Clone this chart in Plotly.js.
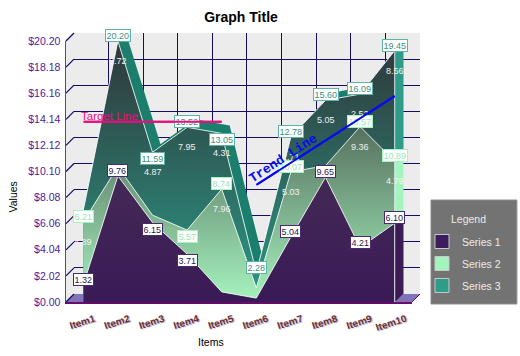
<!DOCTYPE html>
<html><head><meta charset="utf-8">
<script src="https://cdn.plot.ly/plotly-3.0.0.min.js"></script>
<style>html,body{margin:0;padding:0;background:#fff}#c{width:520px;height:356px}</style>
</head><body><div id="c"></div>
<script>
const categories=['Item1','Item2','Item3','Item4','Item5','Item6','Item7','Item8','Item9','Item10'];
const series1=[1.32,9.76,6.15,3.71,0.78,0.30,5.04,9.65,4.21,6.10];
const series2=[4.89,0.72,0.57,1.86,7.96,0.80,5.03,0.90,9.36,4.79];
const series3=[0.90,9.72,4.87,7.95,4.31,1.18,2.71,5.05,2.52,8.56];
const yTickVals=[0,2.02,4.04,6.06,8.08,10.10,12.12,14.14,16.16,18.18,20.20];
const yTickText=['$0.00','$2.02','$4.04','$6.06','$8.08','$10.10','$12.12','$14.14','$16.16','$18.18','$20.20'];
const targetValue=[13.95,13.95];
const targetItems=[0,4];
const trendValues=[9.06,15.94];
const trendItems=[5,9];

// which point labels are shown, and which sit under their point
const boxS1=[0,1,2,3,6,7,8,9], boxS2=[0,3,4,6,8,9], boxS3=[1,2,3,4,5,6,7,8,9];
const valS2=[0,4,6,8,9], valS3=[1,2,3,4,6,7,8,9];
const boxBelow={s1:[2,3],s2:[3],s3:[2,4]};

const idx=categories.map((_,i)=>i);
const r2=v=>Math.round(v*100)/100;
const cum2=series1.map((v,i)=>r2(v+series2[i]));
const cum3=cum2.map((v,i)=>r2(v+series3[i]));

const W=354.4,H=269,DEPTH=8,FW=346.4,FH=261;
const layout={width:520,height:356,margin:{l:65.6,r:100,t:33,b:54,pad:0,autoexpand:false},
  paper_bgcolor:'#fff',plot_bgcolor:'rgba(0,0,0,0)',
  font:{family:'Liberation Sans, Arial, sans-serif',size:10,color:'#000'},
  title:{text:'<b>Graph Title</b>',x:241/520,xanchor:'center',xref:'container',y:1-17/356,yanchor:'middle',font:{size:14,color:'#000'}},
  showlegend:true,
  legend:{x:(422-65.6)/W,xanchor:'left',y:(302-227)/H,yanchor:'top',bgcolor:'rgba(0,0,0,0)',borderwidth:0,
    font:{size:10.5,color:'#ececec'},entrywidth:70,entrywidthmode:'pixels',tracegroupgap:3,itemclick:false,itemdoubleclick:false},
  shapes:[],annotations:[]};

const ax=i=>i===1?'':String(i);
const traces=[];
const NAVY='#160c66';
for(let d=DEPTH;d>=0;d--){
  const n=DEPTH-d+1;
  const xa={domain:[d/W,(FW+d)/W],range:[-0.5,9.5],anchor:'y'+ax(n),showgrid:false,zeroline:false,showline:false,showticklabels:false,ticks:'',fixedrange:true};
  const ya={domain:[d/H,(FH+d)/H],range:[0,20.2],anchor:'x'+ax(n),showgrid:false,zeroline:false,showline:false,showticklabels:false,ticks:'',fixedrange:true};
  if(d===DEPTH){
    Object.assign(xa,{showgrid:true,gridcolor:NAVY,gridwidth:1,tickmode:'array',tickvals:[-0.5,0.5,1.5,2.5,3.5,4.5,5.5,6.5,7.5,8.5,9.5]});
    Object.assign(ya,{showgrid:true,gridcolor:NAVY,gridwidth:1,tickmode:'array',tickvals:yTickVals});
  }
  if(d===0){
    Object.assign(xa,{showline:true,linecolor:'#6a0a6a',linewidth:1.5,showticklabels:true,tickmode:'array',tickvals:idx,ticktext:categories,tickangle:-18,
      ticklabelshift:11,ticklabelstandoff:6,tickfont:{family:'Liberation Sans, Arial',size:10,weight:'bold',color:'#6b2f2f',shadow:'1px 1px 1px #aaaacc'}});
    Object.assign(ya,{showline:true,linecolor:'#8a2a9a',linewidth:1.5,showticklabels:true,tickmode:'array',tickvals:yTickVals,ticktext:yTickText,ticklabelstandoff:2,
      tickfont:{family:'Liberation Sans, Arial',size:10.5,color:'#4b1a9a'}});
  }
  layout['xaxis'+ax(n)]=xa; layout['yaxis'+ax(n)]=ya;
  const refs={xaxis:'x'+ax(n),yaxis:'y'+ax(n),showlegend:false,hoverinfo:'skip'};
  if(d>0){
    // top ribbon of the stack, then the right end faces of the three bands
    traces.push({type:'scatter',mode:'none',x:idx,y:cum3,fill:'tozeroy',fillcolor:'#1c7f6d',...refs});
    [[cum2[9],cum3[9],'#2f9c88'],[series1[9],cum2[9],'#a2f5bf'],[0,series1[9],'#3d1c56']].forEach(e=>
      traces.push({type:'scatter',mode:'lines',x:[9,9],y:[e[0],e[1]],line:{color:e[2],width:1.6},...refs}));
  }
  if(d===0){
    const edge={color:'rgba(255,255,255,0.85)',width:1};
    traces.push({type:'scatter',mode:'lines',x:idx,y:cum3,line:edge,fill:'tozeroy',
      fillgradient:{type:'vertical',colorscale:[[0,'#2a9a86'],[1,'#30363a']]},...refs});
    traces.push({type:'scatter',mode:'lines',x:idx,y:cum2,line:edge,fill:'tozeroy',
      fillgradient:{type:'vertical',colorscale:[[0,'#a6f4bf'],[1,'#56705e']]},...refs});
    traces.push({type:'scatter',mode:'lines',x:idx,y:series1,line:edge,fill:'tozeroy',
      fillgradient:{type:'vertical',colorscale:[[0,'#3a1a56'],[1,'#442a56']]},...refs});
    traces.push({type:'scatter',mode:'lines',x:[9,9],y:[0,cum3[9]],line:edge,...refs});
    traces.push({type:'scatter',mode:'lines',name:'Target Line',x:targetItems,y:targetValue,line:{color:'#e4107e',width:2},...refs});
    traces.push({type:'scatter',mode:'lines',name:'Trend Line',x:trendItems,y:trendValues,line:{color:'#0a0af0',width:2},...refs});
    [['Series 1','#3d1c5e'],['Series 2','#a2f5bf'],['Series 3','#2f9c88']].forEach(s=>traces.push({
      type:'scatter',mode:'markers',name:s[0],legendgroup:s[0],x:[null],y:[null],xaxis:refs.xaxis,yaxis:refs.yaxis,hoverinfo:'skip',
      marker:{symbol:'square',size:14,color:s[1],line:{color:'#c8c8c8',width:1}}}));
  }
}
const frontX='x'+ax(DEPTH+1), frontY='y'+ax(DEPTH+1);

// walls and floor, in paper fractions
const px=v=>v/W, py=v=>v/H;
const yF=v=>v/20.2*FH;
const poly=pts=>'M'+pts.map(p=>px(p[0])+','+py(p[1])).join('L')+'Z';
const shape=(o)=>Object.assign({xref:'paper',yref:'paper',layer:'below'},o);
layout.shapes.push(shape({type:'path',path:poly([[DEPTH,DEPTH],[W,DEPTH],[W,H],[DEPTH,H]]),fillcolor:'#ececec',line:{width:0}}));
layout.shapes.push(shape({type:'path',path:poly([[0,0],[DEPTH,DEPTH],[DEPTH,H],[0,FH]]),fillcolor:'#ececec',line:{width:0}}));
layout.shapes.push(shape({type:'path',path:poly([[0,0],[FW,0],[W,DEPTH],[DEPTH,DEPTH]]),fillcolor:'#8074b8',line:{width:0}}));
yTickVals.forEach(v=>layout.shapes.push(shape({type:'line',x0:px(0),x1:px(DEPTH),y0:py(yF(v)),y1:py(yF(v)+DEPTH),line:{color:NAVY,width:1.2}})));
layout.shapes.push(shape({type:'line',x0:px(FW),x1:px(W),y0:0,y1:py(DEPTH),line:{color:'#6a0a6a',width:1}}));
// legend panel
layout.shapes.push(shape({type:'rect',x0:px(431-65.6),x1:px(517-65.6),y0:py(302-304),y1:py(302-200),fillcolor:'#737373',line:{color:'#8c8c8c',width:1}}));

const box=(i,y,col,txt,below)=>({xref:frontX,yref:frontY,x:i,y:y,text:y.toFixed(2),showarrow:false,
  font:{size:9,color:txt},bgcolor:'#fff',bordercolor:col,borderwidth:1,borderpad:0.5,yanchor:'middle',yshift:below?-6.5:5.5});
const val=(i,y,v)=>({xref:frontX,yref:frontY,x:i,y:y,text:v.toFixed(2),showarrow:false,font:{size:9,color:'#f2f2f2'},yanchor:'middle',yshift:-20});
valS2.forEach(i=>layout.annotations.push(val(i,cum2[i],series2[i])));
valS3.forEach(i=>layout.annotations.push(val(i,cum3[i],series3[i])));
boxS3.forEach(i=>layout.annotations.push(box(i,cum3[i],'#5fb3a3','#3f8f80',boxBelow.s3.includes(i))));
boxS2.forEach(i=>layout.annotations.push(box(i,cum2[i],'#a2f5bf','#98e6b4',boxBelow.s2.includes(i))));
boxS1.forEach(i=>layout.annotations.push(box(i,series1[i],'#4a2a6a','#2a1a4a',boxBelow.s1.includes(i))));
// target and trend lines run over the point labels
const overLine=(xs,ys,color)=>({xref:frontX,yref:frontY,axref:frontX,ayref:frontY,x:xs[1],y:ys[1],ax:xs[0],ay:ys[0],text:'',showarrow:true,arrowhead:0,arrowwidth:2,arrowcolor:color,standoff:0,startstandoff:0});
layout.annotations.push(overLine(targetItems,targetValue,'#e4107e'));
layout.annotations.push(overLine(trendItems,trendValues,'#0a0af0'));
const note=(t,x,y,o)=>Object.assign({xref:'paper',yref:'paper',x:(x-65.6)/W,y:(302-y)/H+0,text:t,showarrow:false,xanchor:'center',yanchor:'middle'},o);
layout.annotations.push(note('Target Line',109.5,116,{font:{size:11.5,color:'#e4107e'}}));
layout.annotations.push(note('Trend Line',283,158,{textangle:-33,font:{family:'Liberation Mono, monospace',size:13,weight:'bold',color:'#0a0af0'}}));
layout.annotations.push(note('Values',13,197,{textangle:-90,font:{size:10.5,color:'#000'}}));
layout.annotations.push(note('Items',211,342,{font:{size:10.5,color:'#000'}}));
layout.annotations.push(note('Legend',469,219,{font:{size:10.5,color:'#ececec'}}));

Plotly.newPlot('c',traces,layout,{displayModeBar:false,staticPlot:true});
</script></body></html>
